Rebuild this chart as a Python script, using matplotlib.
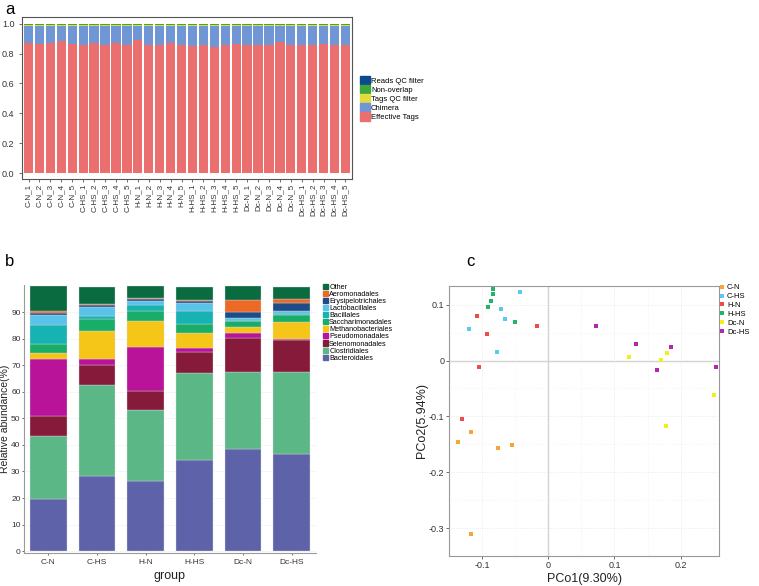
import matplotlib
matplotlib.use('Agg')
import matplotlib.pyplot as plt
import matplotlib.patches as mpatches
from matplotlib.lines import Line2D
import numpy as np

plt.rcParams['font.family'] = ['Liberation Sans', 'DejaVu Sans']

# ---------------- panel a data ----------------
samples = ['C-N_1', 'C-N_2', 'C-N_3', 'C-N_4', 'C-N_5',
           'C-HS_1', 'C-HS_2', 'C-HS_3', 'C-HS_4', 'C-HS_5',
           'H-N_1', 'H-N_2', 'H-N_3', 'H-N_4', 'H-N_5',
           'H-HS_1', 'H-HS_2', 'H-HS_3', 'H-HS_4', 'H-HS_5',
           'Dc-N_1', 'Dc-N_2', 'Dc-N_3', 'Dc-N_4', 'Dc-N_5',
           'Dc-HS_1', 'Dc-HS_2', 'Dc-HS_3', 'Dc-HS_4', 'Dc-HS_5']
effective_tags = [0.871, 0.862, 0.869, 0.882, 0.867, 0.860, 0.871, 0.860, 0.869, 0.858,
                  0.893, 0.858, 0.858, 0.869, 0.860, 0.851, 0.856, 0.844, 0.856, 0.862,
                  0.856, 0.856, 0.856, 0.876, 0.856, 0.856, 0.856, 0.862, 0.856, 0.856]
chimera = [0.114, 0.123, 0.116, 0.103, 0.118, 0.125, 0.114, 0.125, 0.116, 0.127,
           0.092, 0.127, 0.127, 0.116, 0.125, 0.134, 0.129, 0.141, 0.129, 0.123,
           0.129, 0.129, 0.129, 0.109, 0.129, 0.129, 0.129, 0.123, 0.129, 0.129]
tags_qc = [0.004] * 30
non_overlap = [0.009] * 30
reads_qc = [0.001] * 30
qc_names = ['Effective Tags', 'Chimera', 'Tags QC filter', 'Non-overlap', 'Reads QC filter']
qc_colors = ['#EB6F6F', '#7096D6', '#E3DC40', '#3FA63A', '#0B4A8C']

# ---------------- panel b data ----------------
groups = ['C-N', 'C-HS', 'H-N', 'H-HS', 'Dc-N', 'Dc-HS']
taxa = ['Bacteroidales', 'Clostridiales', 'Selenomonadales', 'Pseudomonadales',
        'Methanobacteriales', 'Saccharimonadales', 'Bacillales', 'Lactobacillales',
        'Erysipelotrichales', 'Aeromonadales', 'Other']
bacteroidales = [19.8, 28.2, 26.5, 34.5, 38.5, 36.6]
clostridiales = [23.5, 34.2, 26.6, 32.4, 29.0, 30.7]
selenomonadales = [7.5, 7.6, 7.1, 8.1, 12.7, 12.1]
pseudomonadales = [21.4, 2.3, 16.6, 1.3, 1.8, 0.5]
methanobacteriales = [2.3, 10.6, 9.9, 6.0, 2.3, 6.3]
saccharimonadales = [3.3, 4.4, 3.8, 3.4, 2.2, 2.8]
bacillales = [7.5, 1.2, 2.1, 4.8, 0.2, 0.2]
lactobacillales = [3.7, 3.4, 1.6, 2.8, 1.0, 1.3]
erysipelotrichales = [0.7, 0.6, 0.7, 0.7, 2.3, 2.8]
aeromonadales = [0.8, 0.4, 0.5, 0.4, 4.6, 1.6]
other = [9.3, 6.6, 4.4, 4.9, 5.1, 4.6]
taxa_values = [bacteroidales, clostridiales, selenomonadales, pseudomonadales,
               methanobacteriales, saccharimonadales, bacillales, lactobacillales,
               erysipelotrichales, aeromonadales, other]
taxa_colors = ['#5E63A9', '#5BB886', '#861A3A', '#B9139A', '#F5C518', '#19AD6A',
               '#17B3B3', '#5BC2EA', '#1F4C87', '#EC6A26', '#0A6B40']

# ---------------- panel c data ----------------
pcoa_groups = ['C-N', 'C-HS', 'H-N', 'H-HS', 'Dc-N', 'Dc-HS']
pcoa_colors = ['#F6A53C', '#5CC8F2', '#F04B4B', '#25B36B', '#F4EE1A', '#B526B0']
pc1 = {
    'C-N': [-0.136, -0.117, -0.076, -0.055, -0.117],
    'C-HS': [-0.120, -0.043, -0.072, -0.065, -0.077],
    'H-N': [-0.107, -0.093, -0.017, -0.104, -0.131],
    'H-HS': [-0.083, -0.084, -0.086, -0.091, -0.050],
    'Dc-N': [0.122, 0.180, 0.171, 0.250, 0.178],
    'Dc-HS': [0.072, 0.132, 0.186, 0.165, 0.254],
}
pc2 = {
    'C-N': [-0.146, -0.128, -0.156, -0.152, -0.311],
    'C-HS': [0.057, 0.122, 0.092, 0.075, 0.016],
    'H-N': [0.080, 0.047, 0.061, -0.012, -0.105],
    'H-HS': [0.129, 0.119, 0.106, 0.095, 0.069],
    'Dc-N': [0.006, 0.013, 0.001, -0.061, -0.117],
    'Dc-HS': [0.061, 0.030, 0.024, -0.017, -0.011],
}

W, H = 759, 586
fig = plt.figure(figsize=(W / 100, H / 100), dpi=100)
fig.patch.set_facecolor('white')


def box(l, t, r, b):
    return [l / W, 1 - b / H, (r - l) / W, (b - t) / H]


tick_col = '#333333'

# ================= panel a =================
axa = fig.add_axes(box(22, 17, 352, 179))
x = np.arange(len(samples))
bottom = np.zeros(len(samples))
for vals, col in zip([effective_tags, chimera, tags_qc, non_overlap, reads_qc], qc_colors):
    axa.bar(x, vals, bottom=bottom, width=0.85, color=col, linewidth=0)
    bottom += np.array(vals)
axa.set_xlim(-0.6, len(samples) - 0.4)
axa.set_ylim(-0.04, 1.045)
axa.set_yticks([0.0, 0.2, 0.4, 0.6, 0.8, 1.0])
axa.set_yticklabels(['0.0', '0.2', '0.4', '0.6', '0.8', '1.0'])
axa.set_xticks(x)
axa.set_xticklabels(samples, rotation=90, fontsize=5.8, color=tick_col)
axa.tick_params(axis='y', labelsize=6.5, colors=tick_col, length=2, width=0.5)
axa.tick_params(axis='x', length=2, width=0.5, colors=tick_col, pad=1.5)
for s in axa.spines.values():
    s.set_color('#555555')
    s.set_linewidth(0.8)
handles_a = [mpatches.Patch(color=c, label=n) for n, c in zip(qc_names, qc_colors)][::-1]
axa.legend(handles=handles_a, loc='upper left', bbox_to_anchor=(360 / W, 1 - 76 / H),
           bbox_transform=fig.transFigure, frameon=False, fontsize=5.5,
           handlelength=1.25, handleheight=1.3, labelspacing=0.05,
           handletextpad=0.2, borderpad=0, borderaxespad=0)

# ================= panel b =================
axb = fig.add_axes(box(24, 285, 316, 553))
xb = np.arange(len(groups))
bottom = np.zeros(len(groups))
for vals, col in zip(taxa_values, taxa_colors):
    axb.bar(xb, vals, bottom=bottom, width=0.75, color=col,
            edgecolor='#dddddd', linewidth=0.25)
    bottom += np.array(vals)
axb.set_xlim(-0.5, len(groups) - 0.5)
axb.set_ylim(-0.7, 100.2)
axb.set_yticks(np.arange(0, 91, 10))
axb.set_xticks(xb)
axb.set_xticklabels(groups)
axb.yaxis.grid(True, color='#dddddd', linestyle=':', linewidth=0.5)
axb.set_axisbelow(True)
axb.tick_params(labelsize=6, colors=tick_col, length=1.5, width=0.5, pad=1)
axb.tick_params(axis='x', pad=2.5)
for side in ['top', 'right']:
    axb.spines[side].set_visible(False)
for side in ['left', 'bottom']:
    axb.spines[side].set_color('#999999')
    axb.spines[side].set_linewidth(0.8)
axb.set_ylabel('Relative abundance(%)', fontsize=7.5, color='#222222')
axb.yaxis.set_label_coords((10.5 - 24) / 292, 0.5)
axb.set_xlabel('group', fontsize=9, color='#222222', labelpad=3)
handles_b = [mpatches.Patch(color=c, label=n) for n, c in zip(taxa, taxa_colors)][::-1]
axb.legend(handles=handles_b, loc='upper left', bbox_to_anchor=(323 / W, 1 - 284 / H),
           bbox_transform=fig.transFigure, frameon=False, fontsize=5.2,
           handlelength=0.7, handleheight=0.7, labelspacing=0.0,
           handletextpad=0.15, borderpad=0, borderaxespad=0)

# ================= panel c =================
axc = fig.add_axes(box(449, 286, 719, 556))
for g, c in zip(pcoa_groups, pcoa_colors):
    axc.plot(pc1[g], pc2[g], linestyle='none', marker='s', markersize=2.2,
             color=c, markeredgewidth=0, label=g)
axc.axhline(0, color='#cccccc', linewidth=1.0, zorder=0)
axc.axvline(0, color='#cccccc', linewidth=1.0, zorder=0)
axc.set_xlim(-0.139, 0.258)
axc.set_ylim(-0.315, 0.1335)
axc.set_xticks([-0.1, 0, 0.1, 0.2])
axc.set_xticklabels(['-0.1', '0', '0.1', '0.2'])
axc.set_yticks([-0.3, -0.2, -0.1, 0, 0.1])
axc.set_yticklabels(['-0.3', '-0.2', '-0.1', '0', '0.1'])
axc.set_xticks(np.arange(-0.15, 0.26, 0.05), minor=True)
axc.set_yticks(np.arange(-0.35, 0.14, 0.05), minor=True)
axc.grid(True, which='major', color='#e6e6e6', linestyle=':', linewidth=0.6)
axc.grid(True, which='minor', color='#f0f0f0', linestyle=':', linewidth=0.5)
axc.set_axisbelow(True)
axc.tick_params(which='major', labelsize=6.5, colors=tick_col, length=2, width=0.5, pad=1.5)
axc.tick_params(which='minor', length=0)
for s in axc.spines.values():
    s.set_color('#999999')
    s.set_linewidth(0.8)
axc.set_xlabel('PCo1(9.30%)', fontsize=9, color='#222222', labelpad=2)
axc.set_ylabel('PCo2(5.94%)', fontsize=9, color='#222222')
axc.yaxis.set_label_coords((428 - 449) / 270, 0.5)
handles_c = [Line2D([], [], linestyle='none', marker='s', markersize=2.2, color=c,
                    markeredgewidth=0, label=g) for g, c in zip(pcoa_groups, pcoa_colors)]
axc.legend(handles=handles_c, loc='upper left', bbox_to_anchor=(720 / W, 1 - 284 / H),
           bbox_transform=fig.transFigure, frameon=False, fontsize=5.5,
           handlelength=0.6, labelspacing=0.2, handletextpad=0.3,
           borderpad=0, borderaxespad=0)

# panel letters
fig.text(5 / W, 1 - 10 / H, 'a', fontsize=12, va='center', ha='left')
fig.text(5 / W, 1 - 262 / H, 'b', fontsize=12, va='center', ha='left')
fig.text(466 / W, 1 - 262 / H, 'c', fontsize=12, va='center', ha='left')

fig.savefig('out.png', dpi=100, facecolor='white')
